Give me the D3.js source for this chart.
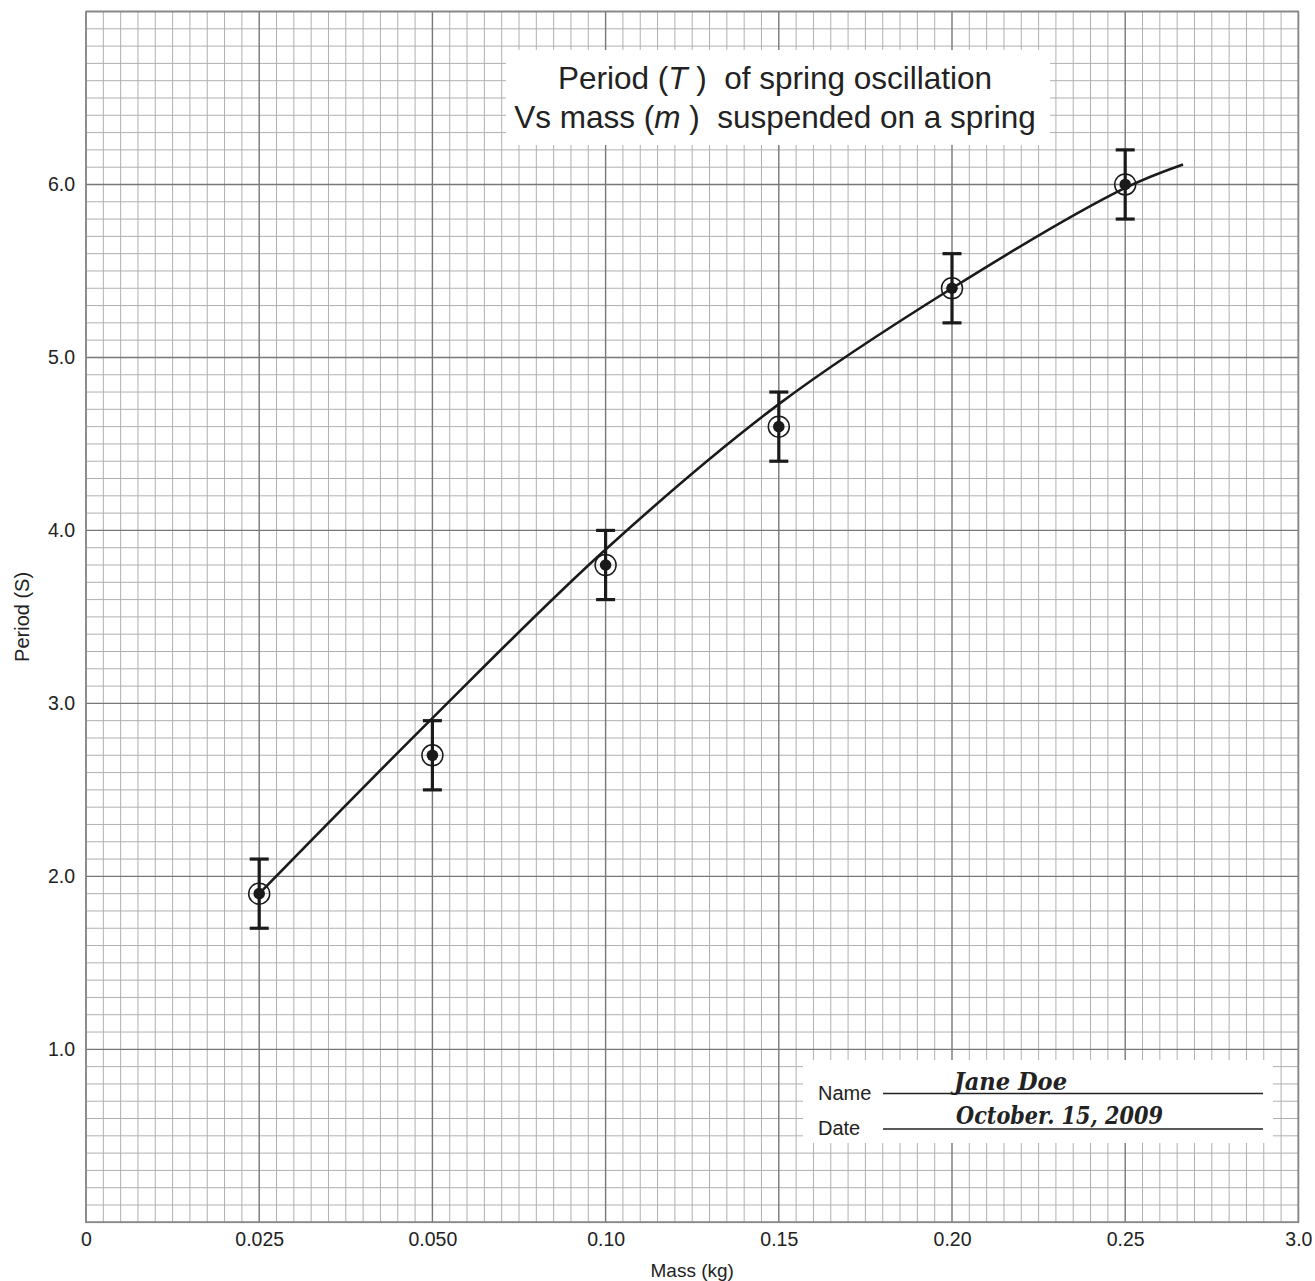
<!DOCTYPE html>
<html>
<head>
<meta charset="utf-8">
<script src="https://cdn.jsdelivr.net/npm/d3@7"></script>
<style>
  html, body { margin: 0; padding: 0; background: #fff; }
  svg { display: block; }
</style>
</head>
<body>
<svg id="chart" width="1315" height="1281"></svg>
<script>
// ---- data ----
const xTickLabels = ["0", "0.025", "0.050", "0.10", "0.15", "0.20", "0.25", "3.0"];
const yTickValues = [1, 2, 3, 4, 5, 6];
const yTickLabels = ["1.0", "2.0", "3.0", "4.0", "5.0", "6.0"];
const masses = ["0.025", "0.050", "0.10", "0.15", "0.20", "0.25"];
const periods = [1.9, 2.7, 3.8, 4.6, 5.4, 6.0];
const periodErrors = [0.2, 0.2, 0.2, 0.2, 0.2, 0.2];
// fitted curve, x given as axis position (tick index), y as period
const fitX = [1, 2, 3, 4, 5, 6, 6.334];
const fitY = [1.9, 2.915, 3.89, 4.73, 5.40, 5.98, 6.116];
const titleLines = [["Period (", "T", " )  of spring oscillation"], ["Vs mass (", "m", " )  suspended on a spring"]];
const nameLabel = "Name", dateLabel = "Date";
const nameValue = "Jane Doe", dateValue = "October. 15, 2009";

(function () {
// ---- layout ----
const pLeft = 86, pRight = 1298.4, pTop = 11.5, pBottom = 1222.3;
const svg = d3.select("#chart");
const x = d3.scaleLinear().domain([0, 7]).range([pLeft, pRight]);
const y = d3.scaleLinear().domain([0, 7]).range([pBottom, pTop]);
const FONT = "Liberation Sans, Arial, sans-serif";

const grid = svg.append("g");
const gridVals = d3.range(0, 71).map(i => i / 10);
const isMajor = d => Math.abs(d - Math.round(d)) < 1e-6;
grid.selectAll("line.mx").data(gridVals.filter(d => !isMajor(d))).join("line").attr("class", "mx")
  .attr("x1", d => x(d)).attr("x2", d => x(d)).attr("y1", y(0)).attr("y2", y(7))
  .attr("stroke", "#b0b0b0").attr("stroke-width", 1);
grid.selectAll("line.my").data(gridVals.filter(d => !isMajor(d))).join("line").attr("class", "my")
  .attr("y1", d => y(d)).attr("y2", d => y(d)).attr("x1", x(0)).attr("x2", x(7))
  .attr("stroke", "#b0b0b0").attr("stroke-width", 1);
grid.selectAll("line.Mx").data(gridVals.filter(isMajor)).join("line").attr("class", "Mx")
  .attr("x1", d => x(d)).attr("x2", d => x(d)).attr("y1", y(0)).attr("y2", y(7))
  .attr("stroke", "#777").attr("stroke-width", 1.4);
grid.selectAll("line.My").data(gridVals.filter(isMajor)).join("line").attr("class", "My")
  .attr("y1", d => y(d)).attr("y2", d => y(d)).attr("x1", x(0)).attr("x2", x(7))
  .attr("stroke", "#777").attr("stroke-width", 1.4);
svg.append("rect").attr("x", x(0)).attr("y", y(7)).attr("width", x(7) - x(0)).attr("height", y(0) - y(7))
  .attr("fill", "none").attr("stroke", "#888").attr("stroke-width", 1.6);

// ---- axes (labels only, like graph paper) ----
const xAxis = d3.axisBottom(x).tickValues(d3.range(0, 8)).tickFormat(i => xTickLabels[i]).tickSize(0).tickPadding(10);
const gx = svg.append("g").attr("transform", `translate(0,${pBottom})`).call(xAxis);
gx.select(".domain").remove();
gx.selectAll("text").attr("font-family", FONT).attr("font-size", 19.5).attr("fill", "#222");

const yAxis = d3.axisLeft(y).tickValues(yTickValues).tickFormat((d, i) => yTickLabels[i]).tickSize(0).tickPadding(11);
const gy = svg.append("g").attr("transform", `translate(${pLeft},0)`).call(yAxis);
gy.select(".domain").remove();
gy.selectAll("text").attr("font-family", FONT).attr("font-size", 19.5).attr("fill", "#222");

svg.append("text").attr("x", (pLeft + pRight) / 2).attr("y", 1277).attr("text-anchor", "middle")
  .attr("font-family", FONT).attr("font-size", 19).attr("fill", "#222").text("Mass (kg)");
svg.append("text").attr("transform", `translate(29,${(pTop + pBottom) / 2}) rotate(-90)`).attr("text-anchor", "middle")
  .attr("font-family", FONT).attr("font-size", 20).attr("fill", "#222").text("Period (S)");

// ---- title box ----
svg.append("rect").attr("x", 506).attr("y", 50).attr("width", 544).attr("height", 95).attr("fill", "#fff");
const title = svg.append("text").attr("text-anchor", "middle").attr("xml:space", "preserve")
  .style("white-space", "pre")
  .attr("font-family", FONT).attr("font-size", 31.5).attr("fill", "#222");
titleLines.forEach((parts, i) => {
  title.append("tspan").attr("x", 775).attr("y", 88.5 + i * 39.5).text(parts[0]);
  title.append("tspan").attr("font-style", "italic").text(parts[1]);
  title.append("tspan").text(parts[2]);
});

// ---- fitted curve ----
const fitPts = fitX.map((d, i) => [d, fitY[i]]);
svg.append("path").datum(fitPts)
  .attr("d", d3.line().x(d => x(d[0])).y(d => y(d[1])).curve(d3.curveCatmullRom.alpha(0.5)))
  .attr("fill", "none").attr("stroke", "#1a1a1a").attr("stroke-width", 2.6);

// ---- data points with error bars ----
const pts = masses.map((m, i) => ({ xi: xTickLabels.indexOf(m), p: periods[i], e: periodErrors[i] }));
const g = svg.append("g").attr("stroke", "#1a1a1a");
g.selectAll("line.eb").data(pts).join("line").attr("class", "eb")
  .attr("x1", d => x(d.xi)).attr("x2", d => x(d.xi))
  .attr("y1", d => y(d.p - d.e)).attr("y2", d => y(d.p + d.e)).attr("stroke-width", 3.2);
g.selectAll("line.caphi").data(pts).join("line").attr("class", "caphi")
  .attr("x1", d => x(d.xi) - 9.5).attr("x2", d => x(d.xi) + 9.5)
  .attr("y1", d => y(d.p + d.e)).attr("y2", d => y(d.p + d.e)).attr("stroke-width", 3.2);
g.selectAll("line.caplo").data(pts).join("line").attr("class", "caplo")
  .attr("x1", d => x(d.xi) - 9.5).attr("x2", d => x(d.xi) + 9.5)
  .attr("y1", d => y(d.p - d.e)).attr("y2", d => y(d.p - d.e)).attr("stroke-width", 3.2);
g.selectAll("circle.ring").data(pts).join("circle").attr("class", "ring")
  .attr("cx", d => x(d.xi)).attr("cy", d => y(d.p)).attr("r", 10.5)
  .attr("fill", "none").attr("stroke-width", 1.5);
g.selectAll("circle.dot").data(pts).join("circle").attr("class", "dot")
  .attr("cx", d => x(d.xi)).attr("cy", d => y(d.p)).attr("r", 5.8)
  .attr("fill", "#1a1a1a").attr("stroke", "none");

// ---- name / date box ----
svg.append("rect").attr("x", 803).attr("y", 1060).attr("width", 470).attr("height", 83).attr("fill", "#fff");
svg.append("text").attr("x", 818).attr("y", 1100).attr("font-family", FONT).attr("font-size", 20).attr("fill", "#222").text(nameLabel);
svg.append("text").attr("x", 818).attr("y", 1135).attr("font-family", FONT).attr("font-size", 20).attr("fill", "#222").text(dateLabel);
svg.append("line").attr("x1", 883).attr("x2", 1263).attr("y1", 1093.5).attr("y2", 1093.5).attr("stroke", "#222").attr("stroke-width", 1.6);
svg.append("line").attr("x1", 883).attr("x2", 1263).attr("y1", 1129).attr("y2", 1129).attr("stroke", "#222").attr("stroke-width", 1.6);
svg.append("text").attr("x", 954).attr("y", 1090).attr("font-family", "DejaVu Serif, serif").attr("font-style", "italic").attr("font-weight", "bold")
  .attr("font-size", 25).attr("fill", "#222").attr("textLength", 113).attr("lengthAdjust", "spacingAndGlyphs").text(nameValue);
svg.append("text").attr("x", 956).attr("y", 1124).attr("font-family", "DejaVu Serif, serif").attr("font-style", "italic").attr("font-weight", "bold")
  .attr("font-size", 24).attr("fill", "#222").attr("textLength", 207).attr("lengthAdjust", "spacingAndGlyphs").text(dateValue);
})();
</script>
</body>
</html>
